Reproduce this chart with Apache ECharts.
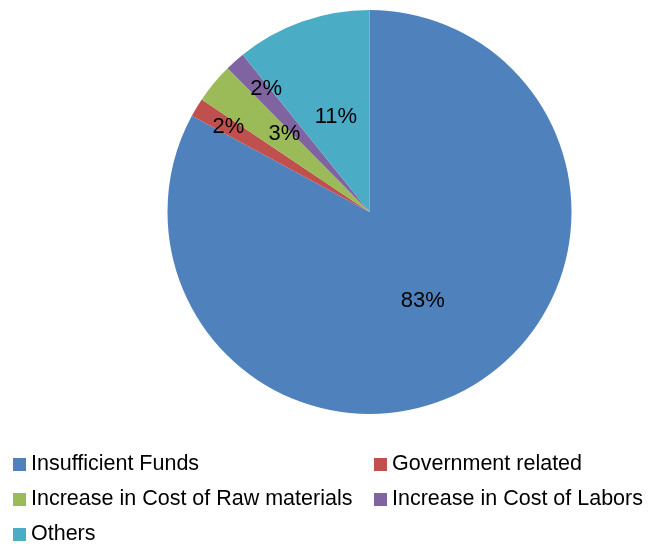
<!DOCTYPE html>
<html>
<head>
<meta charset="utf-8">
<script src="https://cdn.jsdelivr.net/npm/echarts@6/dist/echarts.min.js"></script>
<style>
  html, body { margin: 0; padding: 0; background: #fff; }
  #chart { width: 649px; height: 546px; }
</style>
</head>
<body>
<div id="chart"></div>
<script>
// Reasons for project delays (share of responses)
const categories = [
  'Insufficient Funds',
  'Government related',
  'Increase in Cost of Raw materials',
  'Increase in Cost of Labors',
  'Others'
];
const shares = [82.9, 1.5, 3.2, 1.6, 10.8];
const colors = ['#4F81BD', '#C0504D', '#9BBB59', '#8064A2', '#4BACC6'];

// Legend columns
const legendLeftColumn = ['Insufficient Funds', 'Increase in Cost of Raw materials', 'Others'];
const legendRightColumn = ['Government related', 'Increase in Cost of Labors'];

// Nudges for labels of the thin slices so they sit clear of the centre
const labelNudge = [[0, 0], [-52, -31], [-5, -12], [-34, -45], [1, 3]];

const chart = echarts.init(document.getElementById('chart'));

const legendText = {
  fontFamily: "'Liberation Sans', Arial, sans-serif",
  fontSize: 21.5,
  color: '#000',
  lineHeight: 35
};

function legendColumn(left, names) {
  return {
    orient: 'vertical',
    left: left,
    top: 447,
    height: 120,
    padding: 0,
    icon: 'rect',
    itemWidth: 13,
    itemHeight: 13,
    itemGap: 0,
    selectedMode: false,
    data: names,
    textStyle: legendText
  };
}

chart.setOption({
  animation: false,
  color: colors,
  legend: [legendColumn(13, legendLeftColumn), legendColumn(374, legendRightColumn)],
  series: [
    {
      type: 'pie',
      center: [369.5, 212],
      radius: [0, 202],
      startAngle: 90,
      clockwise: true,
      avoidLabelOverlap: false,
      label: {
        show: true,
        position: 'inside',
        fontFamily: "'Liberation Sans', Arial, sans-serif",
        fontSize: 22,
        color: '#000',
        formatter: function (p) { return Math.round(p.percent) + '%'; }
      },
      labelLine: { show: false },
      labelLayout: function (p) {
        const n = labelNudge[p.dataIndex];
        return { dx: n[0], dy: n[1] };
      },
      emphasis: { disabled: true },
      itemStyle: { borderWidth: 0 },
      data: categories.map(function (name, i) {
        return { name: name, value: shares[i] };
      })
    }
  ]
});
</script>
</body>
</html>
